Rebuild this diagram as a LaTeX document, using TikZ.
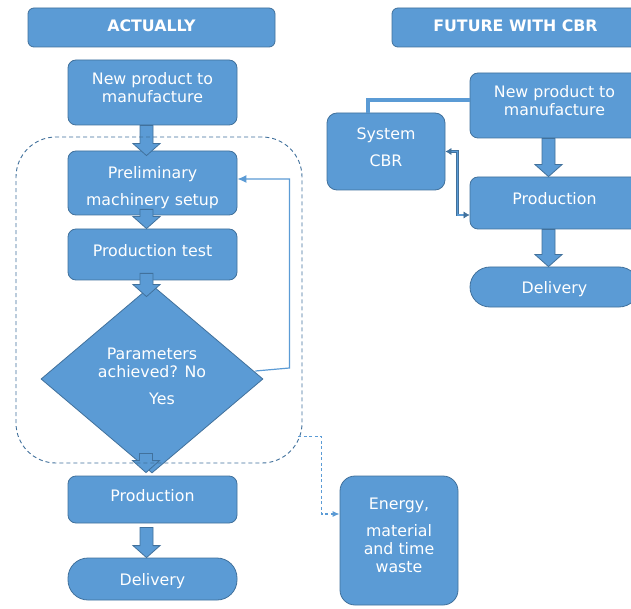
\documentclass[tikz,border=0pt]{standalone}
\usepackage{fontspec}
\setmainfont{DejaVu Sans}
\usetikzlibrary{shapes.geometric,arrows.meta,calc}
\definecolor{cfill}{HTML}{5B9BD5}
\definecolor{cline}{HTML}{41719C}
\begin{document}
\begin{tikzpicture}[x=1pt,y=-1pt,
  box/.style={draw=cline, fill=cfill, line width=0.8pt, rounded corners=8pt, text=white,
    align=center, inner sep=0pt, minimum width=169pt, text depth=9pt,
    font=\fontsize{15.8}{18}\selectfont},
  hdr/.style={box, minimum width=247pt, minimum height=39pt, rounded corners=6pt, text depth=3pt,
    font=\fontsize{15.8}{18}\selectfont\bfseries},
  stad/.style={box, rounded corners=20pt, text depth=0pt},
  dia/.style={diamond, draw=cline, fill=cfill, line width=0.8pt, text=white, align=center,
    inner sep=0pt, minimum width=222pt, minimum height=188pt, text depth=6pt,
    font=\fontsize{15.8}{18}\selectfont},
  grpbox/.style={draw=cline, line width=0.9pt, dash pattern=on 4pt off 3pt, rounded corners=40pt,
    inner sep=0pt},
  barrow/.style={draw=cline, fill=cfill, line width=0.8pt, to path={
    let \p1=(\tikztostart), \p2=(\tikztotarget) in
    (\x1-12.5pt,\y1) -- (\x1+0.5pt,\y1) -- (\x1+0.5pt,\y2+12pt) -- (\x1+7.5pt,\y2+12pt)
    -- (\x1-6pt,\y2) -- (\x1-19.5pt,\y2+12pt) -- (\x1-12.5pt,\y2+12pt) -- cycle}},
  fb/.style={draw=cfill, line width=1.2pt, -{Latex[length=9pt,width=8pt]}},
  dcon/.style={draw=cfill, line width=1.2pt, dash pattern=on 3pt off 2.5pt, -{Latex[length=7pt,width=6pt]}},
  dline/.style={draw=cline, double=cfill, double distance=3.2pt, line width=0.7pt},
  darr/.style={draw=cline, double=cfill, double distance=1.4pt, line width=0.6pt,
    {Latex[length=6pt,width=7pt]}-{Latex[length=6pt,width=7pt]}}
]
\useasboundingbox (0,0) rectangle (631,609);
\clip (0,0) rectangle (631,609);
\fill[white] (0,0) rectangle (631,609);

% left column
\node[hdr] (h1) at (151.5,27.5) {ACTUALLY};
\node[box, minimum height=65pt] (np1) at (152.5,92.5) {New product to\\manufacture};
\node[box, minimum height=64pt, text depth=0pt] (pre) at (152.5,183)
  {\rule{0pt}{18pt}Preliminary\\[9pt]machinery setup};
\node[box, minimum height=51pt] (pt) at (152.5,254.5) {Production test};
\node[dia] (d) at (152,379) {Parameters\\achieved? No\\[9pt]\hspace*{20pt}Yes};
\node[box, minimum height=47pt] (prod1) at (152.5,499.5) {Production};
\node[stad, minimum height=42pt] (del1) at (152.5,579) {Delivery};
\node[box, minimum width=118pt, minimum height=129pt, rounded corners=15pt, text depth=10pt] (en)
  at (399,540.5) {Energy,\\[9pt]material\\and time\\waste};

% right column
\node[hdr] (h2) at (515.5,27.5) {FUTURE WITH CBR};
\node[box, minimum height=65pt] (np2) at (554.5,105.5) {New product to\\manufacture};
\node[box, minimum width=118pt, minimum height=77pt, rounded corners=10pt] (sys) at (386,151.5)
  {System\\[9pt]CBR};
\node[box, minimum height=52pt] (prod2) at (554.5,203) {Production};
\node[stad, minimum height=40pt] (del2) at (554.5,287) {Delivery};

% block arrows
\draw[barrow] (np1.south) to ([yshift=-5pt]pre.north);
\draw[barrow] ([yshift=6pt]pre.south) to (pt.north);
\draw[barrow] ([yshift=7pt]pt.south) to ([yshift=-12pt]d.north);
\draw[barrow] ([yshift=20pt]d.south) to ([yshift=3pt]prod1.north);
\draw[barrow] ([yshift=-4pt]prod1.south) to (del1.north);
\draw[barrow] (np2.south) to (prod2.north);
\draw[barrow] (prod2.south) to (del2.north);

% dashed group
\node[grpbox, minimum width=286pt, minimum height=326pt] (grp) at (159,300) {};

% thin connectors
\draw[fb] ([xshift=-8pt,yshift=8pt]d.east) -- ++(34,-3) |- ([yshift=4pt]pre.east);
\draw[dcon] ($(grp.south east)+(-4,-27)$) -- ++(23,0) |- ([yshift=26.5pt]en.west);
\draw[dline] ([yshift=5.5pt]np2.west) -| ([xshift=-18pt]sys.north);
\draw[darr] (sys.east) -- ++(12,0) |- ([yshift=-12pt]prod2.west);
\end{tikzpicture}
\end{document}
